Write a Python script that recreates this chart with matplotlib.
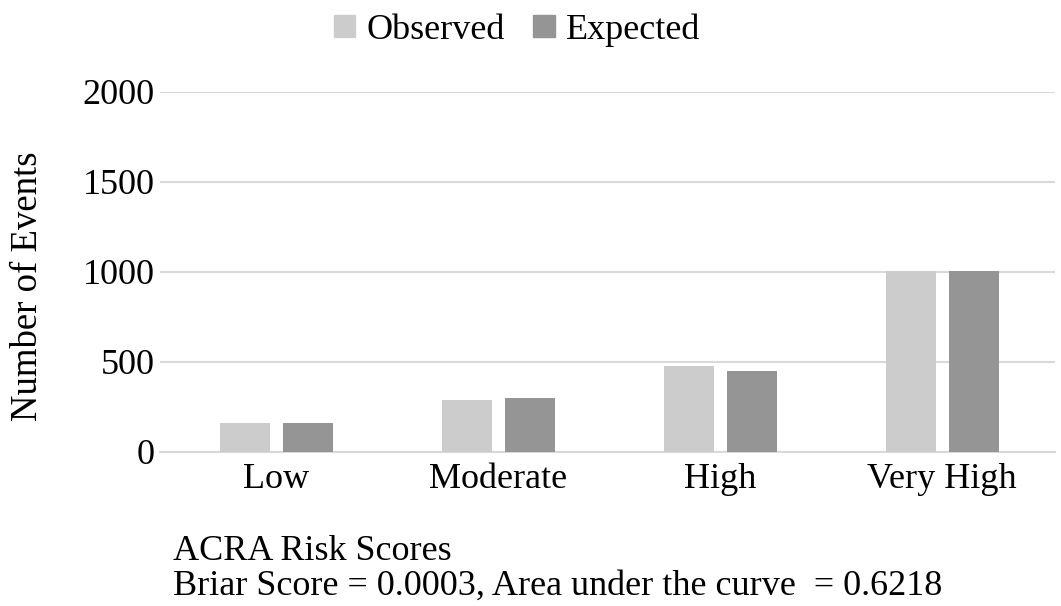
import numpy as np
import matplotlib.pyplot as plt
from matplotlib.patches import Patch

categories = ['Low', 'Moderate', 'High', 'Very High']
observed = [163, 289, 478, 1003]
expected = [163, 302, 452, 1003]
yticks = [0, 500, 1000, 1500, 2000]

plt.rcParams['font.family'] = ['Liberation Serif', 'DejaVu Serif']

c_obs = '#cccccc'
c_exp = '#959595'
grid_c = '#d9d9d9'

fig = plt.figure(figsize=(10.61, 6.06), dpi=100)
ax = fig.add_axes([160 / 1061, 1 - 452 / 606, 895 / 1061, 360 / 606])

x = np.arange(len(categories))
w = 0.225
off = 0.142
ax.bar(x - off, observed, w, color=c_obs, zorder=3)
ax.bar(x + off, expected, w, color=c_exp, zorder=3)

ax.set_xlim(-0.525, 3.509)
ax.set_ylim(0, 2000)
ax.set_yticks(yticks)
ax.set_xticks(x)
ax.set_xticklabels(categories)
ax.tick_params(axis='both', length=0, labelsize=26)
ax.tick_params(axis='x', pad=8)
ax.tick_params(axis='y', pad=4)
ax.yaxis.grid(True, color=grid_c, linewidth=1.5, zorder=0)
for s in ['top', 'right', 'left']:
    ax.spines[s].set_visible(False)
ax.spines['bottom'].set_color(grid_c)
ax.spines['bottom'].set_linewidth(1.5)

fig.text(28 / 1061, 1 - 286 / 606, 'Number of Events', rotation=90,
         ha='center', va='center', fontsize=26.5)

handles = [Patch(color=c_obs, label='Observed'), Patch(color=c_exp, label='Expected')]
fig.legend(handles=handles, loc='center', bbox_to_anchor=(517 / 1061, 1 - 30 / 606),
           ncol=2, frameon=False, fontsize=26, handlelength=0.6, handleheight=0.6,
           handletextpad=0.3, columnspacing=0.8, borderpad=0)

fig.text(173 / 1061, 1 - 560 / 606, 'ACRA Risk Scores', fontsize=26, va='baseline')
fig.text(173 / 1061, 1 - 595 / 606, 'Briar Score = 0.0003, Area under the curve  = 0.6218',
         fontsize=26, va='baseline')

fig.savefig('out.png', dpi=100)
